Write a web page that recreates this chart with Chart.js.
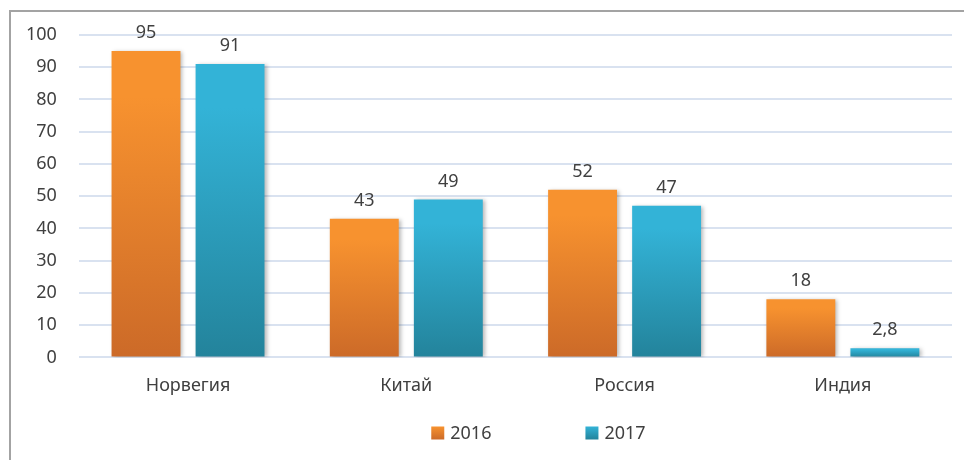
<!DOCTYPE html>
<html><head><meta charset="utf-8">
<script src="https://cdn.jsdelivr.net/npm/chart.js@4/dist/chart.umd.min.js"></script>
<style>html,body{margin:0;padding:0;background:#fff}#wrap{width:964px;height:460px;position:relative}</style>
</head><body><div id="wrap"><canvas id="c" width="964" height="460"></canvas></div>
<script>
const categories = ['Норвегия', 'Китай', 'Россия', 'Индия'];
const values2016 = [95, 43, 52, 18];
const values2017 = [91, 49, 47, 2.8];
const seriesNames = ['2016', '2017'];
const yTicks = [0, 10, 20, 30, 40, 50, 60, 70, 80, 90, 100];

const FONT = '"Noto Sans", "Open Sans", sans-serif';
const TXT = '#404040';
const palettes = [
  {top: '#f7922f', bottom: '#cc6a28'},
  {top: '#33b3d7', bottom: '#23839b'}
];

function barGradient(ctx, idx) {
  const chart = ctx.chart;
  const p = palettes[idx];
  if (!chart.chartArea || !chart.scales.y || ctx.raw === undefined) return p.top;
  const y = chart.scales.y;
  const top = y.getPixelForValue(ctx.raw);
  const base = y.getPixelForValue(0);
  if (!isFinite(top) || !isFinite(base) || Math.abs(base - top) < 1) return p.top;
  const g = chart.ctx.createLinearGradient(0, top, 0, base);
  g.addColorStop(0, p.top);
  g.addColorStop(0.15, p.top);
  g.addColorStop(1, p.bottom);
  return g;
}

const framePlugin = {
  id: 'frame',
  beforeDraw(chart) {
    const c = chart.ctx;
    c.save();
    c.strokeStyle = '#a3a3a3';
    c.lineWidth = 2;
    c.beginPath();
    c.moveTo(10, 460);
    c.lineTo(10, 11);
    c.lineTo(964, 11);
    c.stroke();
    c.restore();
  }
};

const shadowPlugin = {
  id: 'barShadow',
  beforeDatasetsDraw(chart) {
    const c = chart.ctx;
    c.save();
    c.shadowColor = 'rgba(0,0,0,0.28)';
    c.shadowBlur = 4;
    c.shadowOffsetX = 2;
    c.shadowOffsetY = 1;
  },
  afterDatasetsDraw(chart) { chart.ctx.restore(); }
};

const labelPlugin = {
  id: 'valueLabels',
  afterDatasetsDraw(chart) {
    const c = chart.ctx;
    c.save();
    c.font = '18px ' + FONT;
    c.fillStyle = TXT;
    c.textAlign = 'center';
    c.textBaseline = 'bottom';
    chart.data.datasets.forEach((ds, di) => {
      const meta = chart.getDatasetMeta(di);
      meta.data.forEach((bar, i) => {
        const v = ds.data[i];
        const txt = String(v).replace('.', ',');
        c.fillText(txt, bar.x, bar.y - 9);
      });
    });
    c.restore();
  }
};

const legendPlugin = {
  id: 'customLegend',
  afterDraw(chart) {
    const c = chart.ctx;
    c.save();
    c.font = '18px ' + FONT;
    c.textBaseline = 'middle';
    c.textAlign = 'left';
    const box = 13, gapText = 6, gapItems = 94, yMid = 433;
    const widths = chart.data.datasets.map(d => box + gapText + c.measureText(d.label).width);
    const total = widths.reduce((a, b) => a + b, 0) + gapItems * (widths.length - 1);
    let x = (chart.chartArea.left + chart.chartArea.right) / 2 + 23 - total / 2;
    chart.data.datasets.forEach((d, i) => {
      const p = palettes[i];
      const g = c.createLinearGradient(0, yMid - box / 2, 0, yMid + box / 2);
      g.addColorStop(0, p.top); g.addColorStop(1, p.bottom);
      c.fillStyle = g;
      c.fillRect(x, yMid - box / 2, box, box);
      c.fillStyle = TXT;
      c.fillText(d.label, x + box + gapText, yMid + 1);
      x += widths[i] + gapItems;
    });
    c.restore();
  }
};

new Chart(document.getElementById('c'), {
  type: 'bar',
  data: {
    labels: categories,
    datasets: [
      {label: seriesNames[0], data: values2016, backgroundColor: ctx => barGradient(ctx, 0)},
      {label: seriesNames[1], data: values2017, backgroundColor: ctx => barGradient(ctx, 1)}
    ]
  },
  options: {
    responsive: false,
    animation: false,
    devicePixelRatio: 1,
    categoryPercentage: 0.77,
    barPercentage: 0.82,
    layout: {padding: {left: 4, right: 12, top: 35, bottom: 53}},
    plugins: {legend: {display: false}, tooltip: {enabled: false}},
    scales: {
      x: {
        grid: {display: false},
        border: {display: false},
        ticks: {color: TXT, font: {family: FONT, size: 18}, padding: 10}
      },
      y: {
        min: 0, max: 100,
        afterBuildTicks(axis) { axis.ticks = yTicks.map(v => ({value: v})); },
        grid: {color: '#d9e2f0', lineWidth: 2, drawTicks: false},
        border: {display: false},
        ticks: {color: TXT, font: {family: FONT, size: 18}, padding: 22}
      }
    }
  },
  plugins: [framePlugin, shadowPlugin, labelPlugin, legendPlugin]
});
</script></body></html>
